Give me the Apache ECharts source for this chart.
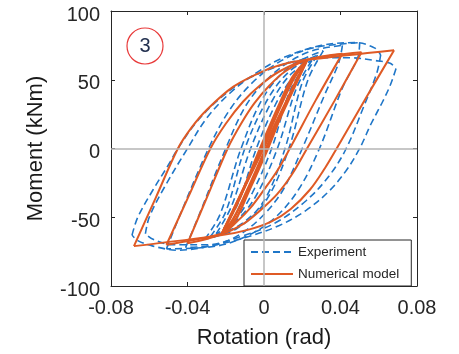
<!DOCTYPE html>
<html>
<head>
<meta charset="utf-8">
<script src="https://cdn.jsdelivr.net/npm/echarts@6/dist/echarts.min.js"></script>
<style>
  html, body { margin: 0; padding: 0; background: #fff; }
  #chart { width: 459px; height: 354px; }
</style>
</head>
<body>
<div id="chart"></div>
<script>
// Axis ticks
const rotationTicks = [-0.08, -0.04, 0, 0.04, 0.08];
const momentTicks = [-100, -50, 0, 50, 100];

// Numerical model: [rotation (rad), moment (kNm)] per half-cycle branch
const modelSmallUp1 = [[-0.022, -62], [-0.012, -33], [-0.001, 0], [0.009, 32], [0.016, 52], [0.0225, 64.5]];
const modelSmallDown1 = [[0.0225, 64.5], [0.012, 33], [0.001, 0], [-0.009, -31], [-0.016, -51], [-0.022, -62]];
const modelSmallUp2 = [[-0.022, -62], [-0.013, -37], [-0.002, 0], [0.008, 32], [0.015, 52], [0.0225, 64.5]];
const modelSmallDown2 = [[0.0225, 64.5], [0.013, 38], [0.002, 0], [-0.008, -31], [-0.015, -52], [-0.022, -62]];
const modelSmallMid = [[-0.022, -62], [0, 1], [0.0225, 64.5]];
const modelUp40 = [[-0.040, -69], [-0.0295, -34.5], [-0.019, 0], [-0.012, 18], [-0.005, 33], [0.003, 46], [0.011, 56], [0.0225, 64.5], [0.041, 69]];
const modelDown40 = [[0.041, 69], [0.027, 35], [0.0135, 0], [0.007, -16], [0, -30], [-0.007, -43], [-0.014, -53], [-0.022, -62], [-0.040, -69]];
const modelUp50 = [[-0.051, -70], [-0.0395, -35], [-0.028, 0], [-0.020, 18], [-0.011, 34], [-0.002, 46], [0.008, 56], [0.0225, 64.5], [0.051, 70]];
const modelDown50 = [[0.051, 70], [0.037, 35], [0.0225, 0], [0.015, -18], [0.007, -33], [-0.002, -45], [-0.011, -55], [-0.022, -62], [-0.051, -70]];
const modelUp68 = [[-0.068, -71], [-0.0565, -35.5], [-0.045, 0], [-0.038, 15], [-0.030, 28], [-0.016, 45], [0, 56.5], [0.012, 62], [0.0225, 64.5], [0.068, 71.5]];
const modelDown68 = [[0.068, 71.5], [0.053, 36], [0.038, 0], [0.032, -14], [0.024, -30], [0.014, -44], [0.004, -53], [-0.008, -59], [-0.022, -63], [-0.068, -71]];

// Experiment: [rotation (rad), moment (kNm)] per half-cycle branch
const testSmallUp1 = [[-0.021, -58], [-0.013, -38], [-0.004, 0], [0.006, 32], [0.014, 50], [0.021, 60]];
const testSmallDown1 = [[0.021, 60], [0.013, 40], [0.004, 0], [-0.006, -32], [-0.014, -50], [-0.021, -58]];
const testSmallUp2 = [[-0.025, -62], [-0.017, -42], [-0.007, 0], [0.004, 34], [0.014, 54], [0.025, 64]];
const testSmallDown2 = [[0.025, 64], [0.017, 44], [0.007, 0], [-0.004, -34], [-0.014, -52], [-0.025, -62]];
const testSmallUp3 = [[-0.028, -64], [-0.020, -46], [-0.010, 0], [0.002, 36], [0.014, 57], [0.028, 68]];
const testSmallDown3 = [[0.028, 68], [0.020, 48], [0.011, 0], [0, -38], [-0.013, -56], [-0.028, -64]];
const testSmallUp4 = [[-0.031, -66], [-0.023, -48], [-0.012, 0], [0, 38], [0.014, 60], [0.031, 71]];
const testSmallDown4 = [[0.031, 71], [0.023, 50], [0.013, 0], [0.001, -38], [-0.014, -58], [-0.031, -66]];
const testUp40 = [[-0.041, -72], [-0.035, -52], [-0.020, 0], [-0.010, 30], [0, 48], [0.012, 62], [0.025, 71], [0.041, 75]];
const testDown40 = [[0.041, 75], [0.039, 62], [0.032, 40], [0.020, 0], [0.010, -30], [0, -48], [-0.012, -62], [-0.025, -70], [-0.041, -72]];
const testUp50 = [[-0.051, -73], [-0.045, -52], [-0.029, 0], [-0.018, 28], [-0.006, 48], [0.008, 63], [0.025, 73], [0.050, 77]];
const testDown50 = [[0.050, 77], [0.049, 66], [0.041, 44], [0.029, 0], [0.018, -30], [0.006, -50], [-0.008, -63], [-0.025, -71], [-0.051, -73]];
const testUp60 = [[-0.062, -62], [-0.060, -50], [-0.052, -28], [-0.040, 0], [-0.030, 22], [-0.018, 40], [-0.004, 55], [0.010, 66], [0.030, 75], [0.048, 77], [0.058, 73], [0.061, 68]];
const testDown60 = [[0.061, 68], [0.059, 55], [0.052, 30], [0.043, 0], [0.034, -20], [0.022, -38], [0.006, -54], [-0.012, -64], [-0.030, -70], [-0.048, -70], [-0.058, -66], [-0.062, -62]];
const testUp68 = [[-0.069, -63], [-0.066, -50], [-0.058, -30], [-0.050, -12], [-0.045, 0], [-0.036, 18], [-0.025, 34], [-0.012, 48], [0, 56], [0.015, 63], [0.030, 66], [0.045, 66], [0.058, 64], [0.066, 62], [0.069, 58]];
const testDown68 = [[0.069, 58], [0.066, 46], [0.062, 34], [0.056, 18], [0.050, 0], [0.043, -16], [0.034, -31], [0.022, -45], [0.008, -56], [-0.008, -64], [-0.025, -70], [-0.045, -74], [-0.058, -71], [-0.066, -67], [-0.069, -63]];

const testBranches = [testSmallUp1, testSmallDown1, testSmallUp2, testSmallDown2, testSmallUp3, testSmallDown3,
  testSmallUp4, testSmallDown4, testUp40, testDown40, testUp50, testDown50, testUp60, testDown60, testUp68, testDown68];
const modelSmallBranches = [modelSmallUp1, modelSmallDown1, modelSmallUp2, modelSmallDown2, modelSmallMid];
const modelBranches = [modelUp40, modelDown40, modelUp50, modelDown50, modelUp68, modelDown68];

const BLUE = '#1f76c8';
const ORANGE = '#df5a25';
const INK = '#262626';
const FONT = 'Liberation Sans, Arial, sans-serif';

const series = [];
// zero reference lines
series.push({
  type: 'line', data: [], silent: true, z: 1,
  markLine: {
    silent: true, symbol: 'none', label: { show: false },
    lineStyle: { color: '#b4b4b4', width: 1.5, type: 'solid' },
    data: [{ xAxis: 0 }, { yAxis: 0 }]
  }
});
testBranches.forEach(d => series.push({
  name: 'Experiment', type: 'line', data: d, smooth: 0.35, showSymbol: false, z: 2,
  lineStyle: { color: BLUE, width: 1.6, type: [7, 4] }, itemStyle: { color: BLUE }
}));
modelSmallBranches.forEach(d => series.push({
  name: 'Numerical model', type: 'line', data: d, smooth: 0.35, showSymbol: false, z: 3,
  lineStyle: { color: ORANGE, width: 2.6 }, itemStyle: { color: ORANGE }
}));
modelBranches.forEach(d => series.push({
  name: 'Numerical model', type: 'line', data: d, smooth: 0.35, showSymbol: false, z: 3,
  lineStyle: { color: ORANGE, width: 2 }, itemStyle: { color: ORANGE }
}));

const axisCommon = {
  type: 'value',
  axisLine: { show: true, onZero: false, lineStyle: { color: INK, width: 1 } },
  axisTick: { show: true, inside: true, length: 4, lineStyle: { color: INK } },
  splitLine: { show: false }
};

const chart = echarts.init(document.getElementById('chart'), null, { renderer: 'canvas' });
chart.setOption({
  animation: false,
  backgroundColor: '#fff',
  grid: { left: 111, right: 42, top: 11, bottom: 67 },
  xAxis: [
    Object.assign({}, axisCommon, {
      position: 'bottom', min: rotationTicks[0], max: rotationTicks[rotationTicks.length - 1], interval: 0.04,
      name: 'Rotation (rad)', nameLocation: 'middle', nameGap: 41,
      nameTextStyle: { fontFamily: FONT, fontSize: 22, color: '#1a1a1a' },
      axisLabel: { fontFamily: FONT, fontSize: 20, color: INK, margin: 12,
        formatter: v => String(rotationTicks.find(t => Math.abs(t - v) < 1e-9) ?? v) }
    }),
    Object.assign({}, axisCommon, {
      position: 'top', min: -0.08, max: 0.08, interval: 0.04, axisLabel: { show: false }
    })
  ],
  yAxis: [
    Object.assign({}, axisCommon, {
      position: 'left', min: momentTicks[0], max: momentTicks[momentTicks.length - 1], interval: 50,
      name: 'Moment (kNm)', nameLocation: 'middle', nameGap: 64,
      nameTextStyle: { fontFamily: FONT, fontSize: 22, color: '#1a1a1a' },
      axisLabel: { fontFamily: FONT, fontSize: 20, color: INK, margin: 11, verticalAlign: 'top', padding: [-6, 0, 0, 0] }
    }),
    Object.assign({}, axisCommon, {
      position: 'right', min: -100, max: 100, interval: 50, axisLabel: { show: false }
    })
  ],
  legend: {
    left: 244, top: 240, orient: 'vertical',
    data: ['Experiment', 'Numerical model'],
    backgroundColor: '#fff', borderColor: INK, borderWidth: 1, borderRadius: 0,
    padding: [5, 12, 5, 6], itemGap: 8, itemWidth: 42, itemHeight: 14,
    itemStyle: { opacity: 0 },
    textStyle: { fontFamily: FONT, fontSize: 13.5, color: INK }
  },
  graphic: [
    { type: 'circle', shape: { cx: 145, cy: 46, r: 18 }, style: { fill: 'none', stroke: '#e83a3a', lineWidth: 1.2 }, z: 10 },
    { type: 'text', x: 145, y: 46, style: { text: '3', fontFamily: FONT, fontSize: 20, fill: '#22304f', align: 'center', verticalAlign: 'middle' }, z: 10 }
  ],
  series: series
});
</script>
</body>
</html>
